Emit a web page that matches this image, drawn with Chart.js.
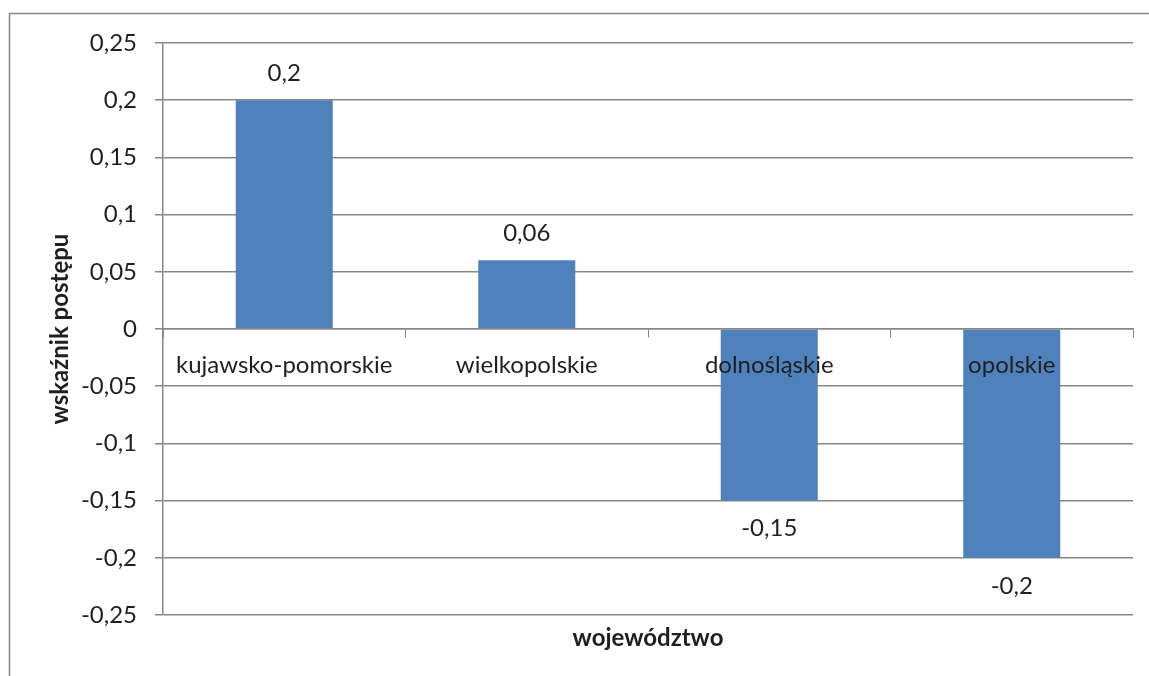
<!DOCTYPE html>
<html lang="pl">
<head>
<meta charset="utf-8">
<title>Wskaźnik postępu według województw</title>
<script src="https://cdn.jsdelivr.net/npm/chart.js@4.4.1/dist/chart.umd.min.js"></script>
<style>
  html, body { margin: 0; padding: 0; background: #ffffff; }
  #wrap { width: 1149px; height: 676px; position: relative; }
</style>
</head>
<body>
<div id="wrap"><canvas id="chart" width="1149" height="676"></canvas></div>
<script>
// Data
const categories = ['kujawsko-pomorskie', 'wielkopolskie', 'dolnośląskie', 'opolskie'];
const progressValues = [0.2, 0.06, -0.15, -0.2];
const yTickValues = [-0.25, -0.2, -0.15, -0.1, -0.05, 0, 0.05, 0.1, 0.15, 0.2, 0.25];
const yAxisTitle = 'wskaźnik postępu';
const xAxisTitle = 'województwo';

const FONT = 'Lato, "Open Sans", "DejaVu Sans", sans-serif';
const FONT_SIZE = 24;
const TEXT = '#1f1f1f';
const GRID = '#878787';
const BAR = '#4F81BD';

const fmt = v => String(Math.round(v * 100) / 100).replace('.', ',');

// Outer frame (left and top edges) behind the chart
const framePlugin = {
  id: 'frame',
  beforeDraw(chart) {
    const ctx = chart.ctx;
    ctx.save();
    ctx.strokeStyle = GRID;
    ctx.lineWidth = 1.5;
    ctx.beginPath();
    ctx.moveTo(9.5, chart.height);
    ctx.lineTo(9.5, 13.5);
    ctx.lineTo(chart.width, 13.5);
    ctx.stroke();
    ctx.restore();
  }
};

// Value labels above / below each bar, plus the horizontal axis title
const labelPlugin = {
  id: 'valueLabels',
  afterDraw(chart) {
    const ctx = chart.ctx;
    const meta = chart.getDatasetMeta(0);
    ctx.save();
    ctx.font = FONT_SIZE + 'px ' + FONT;
    ctx.fillStyle = TEXT;
    ctx.textAlign = 'center';
    ctx.textBaseline = 'middle';
    meta.data.forEach((bar, i) => {
      const v = progressValues[i];
      const y = v >= 0 ? bar.y - 27 : bar.y + 28;
      ctx.fillText(fmt(v), bar.x, y);
    });
    const area = chart.chartArea;
    ctx.font = 'bold ' + FONT_SIZE + 'px ' + FONT;
    ctx.fillText(xAxisTitle, (area.left + area.right) / 2, area.bottom + 23);
    ctx.restore();
  }
};

new Chart(document.getElementById('chart'), {
  type: 'bar',
  data: {
    labels: categories,
    datasets: [{
      data: progressValues,
      backgroundColor: BAR,
      borderWidth: 0,
      categoryPercentage: 1,
      barPercentage: 0.4
    }]
  },
  options: {
    responsive: false,
    animation: false,
    devicePixelRatio: 1,
    layout: { padding: { top: 43, right: 16, bottom: 61, left: 0 } },
    plugins: {
      legend: { display: false },
      tooltip: { enabled: false }
    },
    scales: {
      x: {
        position: { y: 0 },
        offset: true,
        grid: {
          display: true,
          offset: true,
          drawOnChartArea: false,
          drawTicks: true,
          tickLength: 8,
          color: GRID,
          lineWidth: 1,
          z: 1
        },
        border: { display: true, color: GRID, width: 1.5, z: 1 },
        ticks: {
          color: TEXT,
          font: { family: FONT, size: FONT_SIZE },
          padding: 14,
          maxRotation: 0,
          autoSkip: false,
          z: 2
        }
      },
      y: {
        min: yTickValues[0],
        max: yTickValues[yTickValues.length - 1],
        afterBuildTicks(scale) {
          scale.ticks = yTickValues.map(v => ({ value: v }));
        },
        afterFit(scale) { scale.width = 163; },
        grid: {
          color: GRID,
          lineWidth: 1.5,
          drawTicks: true,
          tickLength: 8
        },
        border: { display: true, color: GRID, width: 1.5 },
        ticks: {
          color: TEXT,
          font: { family: FONT, size: FONT_SIZE },
          padding: 18,
          callback: v => fmt(v)
        },
        title: {
          display: true,
          text: yAxisTitle,
          color: TEXT,
          font: { family: FONT, size: FONT_SIZE, weight: 'bold' },
          padding: { top: 46, bottom: 0 }
        }
      }
    }
  },
  plugins: [framePlugin, labelPlugin]
});
</script>
</body>
</html>
